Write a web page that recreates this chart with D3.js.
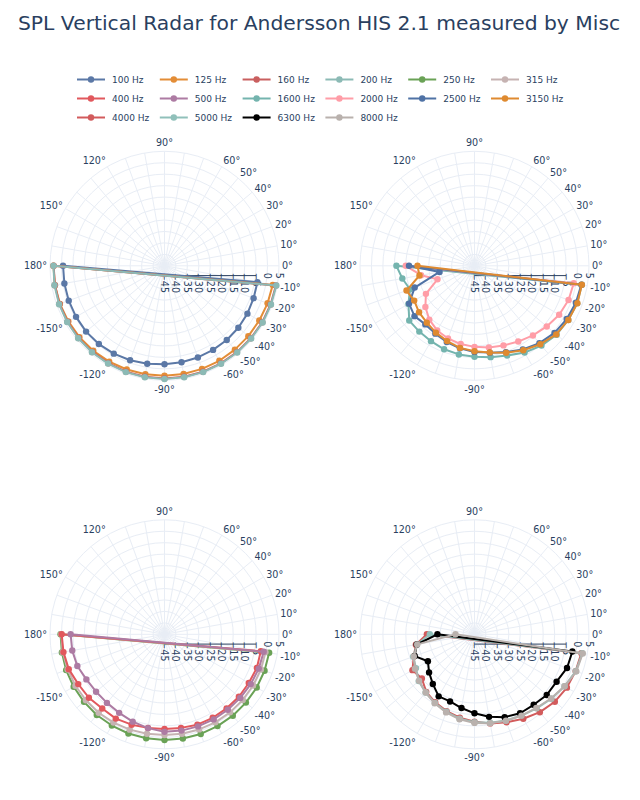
<!DOCTYPE html>
<html><head><meta charset="utf-8">
<script src="https://cdn.jsdelivr.net/npm/d3@7"></script>
<style>
body{margin:0;background:#fff}
svg{display:block}
text{font-family:"DejaVu Sans",Verdana,sans-serif;fill:#2a3f5f}
</style>
</head><body>
<svg id="chart" width="640" height="800"></svg>
<script>
// ---------- data ----------
const angles = [-10,-20,-30,-40,-50,-60,-70,-80,-90,-100,-110,-120,-130,-140,-150,-160,-170,180];
const frequencies = ["100 Hz","125 Hz","160 Hz","200 Hz","250 Hz","315 Hz","400 Hz","500 Hz",
                     "1600 Hz","2000 Hz","2500 Hz","3150 Hz","4000 Hz","5000 Hz","6300 Hz","8000 Hz"];
const hz100  = [-3.8,-3.6,-3.2,-2.9,-2.7,-2.6,-2.4,-2.2,-2.0,-1.6,-1.1,-0.7,-0.4,-0.3,-0.4,-0.5,-0.6,-0.7];
const hz125  = [3.0,2.9,2.8,2.8,2.8,2.9,2.9,3.0,3.0,3.1,3.2,3.3,3.4,3.5,3.5,3.6,3.6,3.5];
const hz160  = [4.4,4.3,4.3,4.2,4.2,4.2,4.2,4.2,4.2,4.2,4.2,4.1,4.1,4.0,3.9,3.8,3.6,3.4];
const hz200  = [4.6,4.5,4.5,4.4,4.4,4.4,4.4,4.4,4.4,4.4,4.4,4.3,4.3,4.2,4.1,4.0,3.8,3.5];
const hz250  = [1.4,1.5,1.5,1.4,1.4,1.3,1.3,1.2,1.2,1.1,1.1,1.0,1.0,0.9,0.8,0.7,0.5,0.4];
const hz315  = [-0.2,-0.2,-0.3,-0.4,-0.5,-0.6,-0.8,-0.9,-1.0,-0.9,-0.7,-0.5,-0.3,-0.2,-0.1,0.0,0.1,0.1];
const hz400  = [-2.3,-2.1,-2.5,-2.6,-2.8,-2.9,-3.0,-3.5,-3.7,-3.5,-3.0,-2.5,-2.7,-1.9,-1.5,-0.5,-0.2,-0.1];
const hz500  = [-1.0,-1.2,-1.5,-1.8,-2.0,-2.1,-2.2,-2.3,-2.4,-3.4,-4.4,-5.4,-5.9,-6.0,-5.6,-4.5,-4.1,-4.0];
const hz1600 = [2.6,2.7,2.3,1.8,0.5,-1.3,-3.3,-4.5,-5.3,-5.7,-6.2,-7.0,-7.5,-7.8,-11.7,-15.0,-13.0,-10.9];
const hz2000 = [-1.0,-1.3,-2.3,-3.8,-5.3,-6.8,-8.0,-8.8,-9.6,-10.3,-11.2,-12.4,-14.3,-17.0,-20.5,-27.8,-21.3,-15.0];
const hz2500 = [2.4,2.1,1.5,0.6,-0.9,-2.8,-4.9,-6.5,-7.4,-8.4,-9.6,-10.8,-11.6,-10.8,-12.0,-17.2,-29.5,-16.4];
const hz3150 = [2.6,2.8,2.3,1.6,-0.3,-2.4,-4.6,-6.6,-7.7,-8.6,-10.0,-11.3,-12.6,-13.4,-14.6,-13.4,-20.6,-20.1];
const hz4000 = [2.4,2.0,1.6,0.8,-0.6,-2.4,-4.1,-5.5,-6.8,-8.0,-9.3,-10.7,-12.2,-15.0,-13.7,-16.8,-19.0,-24.2];
const hz5000 = [2.8,2.1,0.4,-1.2,-2.8,-4.0,-4.9,-5.8,-6.6,-7.6,-9.0,-10.4,-11.8,-13.2,-15.5,-16.5,-19.5,-25.5];
const hz6300 = [-1.6,-2.0,-3.6,-3.8,-4.8,-5.2,-6.5,-8.4,-10.5,-12.3,-13.8,-13.7,-16.7,-19.1,-21.5,-17.2,-19.4,-28.8];
const hz8000 = [3.0,2.3,0.4,-1.4,-3.0,-4.0,-4.8,-5.6,-6.3,-7.3,-8.7,-10.2,-11.8,-13.4,-15.0,-16.8,-19.6,-36.7];
const seriesValues = [hz100,hz125,hz160,hz200,hz250,hz315,hz400,hz500,
                      hz1600,hz2000,hz2500,hz3150,hz4000,hz5000,hz6300,hz8000];
const subplotOf = [0,0,0,0,2,2,2,2,1,1,1,1,3,3,3,3];
const radialTicks = [-45,-40,-35,-30,-25,-20,-15,-10,-5,0,5];
const angularLabelValues = [90,120,150,180,-150,-120,-90,-60,-50,-40,-30,-20,-10,0,10,20,30,40,50,60];
const titleText = "SPL Vertical Radar for Andersson HIS 2.1 measured by Misc";

// ---------- styles ----------
const colors = ["#5b78a6","#e38d37","#c95f5f","#8cbab5","#6aa256","#c6b3b2","#e1585d","#ad7ba3",
                "#74b4ae","#ff9da7","#4f72a5","#df8a30","#d25b5c","#90c0ba","#000000","#b9b1ad"];
const centers = [[164.5,265.8],[474.5,265.8],[164.5,634.3],[474.5,634.3]];
const R = 114.5, gridColor = "#e8edf5", fs = 9.6, pad = 3;

const svg = d3.select("#chart");
svg.append("rect").attr("width",640).attr("height",800).attr("fill","#fff");

const r = d3.scaleLinear().domain([-45,5]).range([0,R]);
const a = d3.scaleLinear().domain([0,90]).range([Math.PI/2,0]); // d3 radial angle (clockwise from top)
const deg = d3.scaleLinear().domain([0,180]).range([0,Math.PI]);

svg.append("text").attr("x",18).attr("y",30).attr("font-size",20.3).text(titleText);

// legend
frequencies.forEach((f,i)=>{
  const col=i%6,row=Math.floor(i/6);
  const x0=77+col*82.8,y=79.5+row*19;
  const g=svg.append("g");
  g.append("line").attr("x1",x0).attr("x2",x0+28).attr("y1",y).attr("y2",y)
    .attr("stroke",colors[i]).attr("stroke-width",2);
  g.append("circle").attr("cx",x0+14).attr("cy",y).attr("r",3.2).attr("fill",colors[i]);
  g.append("text").attr("x",x0+35).attr("y",y+3.3).attr("font-size",9).text(f);
});

const spokes = d3.range(-180,180,10);
const fmt = d3.format("");

centers.forEach(([cx,cy],k)=>{
  const g = svg.append("g").attr("transform",`translate(${cx},${cy})`);
  g.selectAll("circle.grid").data(radialTicks.filter(v=>v>-45)).join("circle")
    .attr("r",d=>r(d)).attr("fill","none").attr("stroke",gridColor).attr("stroke-width",1);
  g.selectAll("line.spoke").data(spokes).join("line")
    .attr("x1",0).attr("y1",0)
    .attr("x2",d=>Math.cos(deg(d))*R).attr("y2",d=>-Math.sin(deg(d))*R)
    .attr("stroke",gridColor).attr("stroke-width",1);
  g.selectAll("text.ang").data(angularLabelValues).join("text")
    .attr("font-size",fs)
    .attr("x",d=>Math.cos(deg(d))*(R+pad))
    .attr("y",d=>{const s=Math.sin(deg(d)),c=Math.cos(deg(d));const ff=s>0?0.2:1;
       return -s*R - s*(pad+fs*ff) + Math.abs(c)*fs*0.35;})
    .attr("text-anchor",d=>{const c=Math.cos(deg(d));return Math.abs(c)<0.1?"middle":(c>0?"start":"end");})
    .text(d=>d+"°");
  g.append("line").attr("x1",r(-45)).attr("x2",r(-5)).attr("y1",9.8).attr("y2",9.8)
    .attr("stroke","#2a3f5f").attr("stroke-width",1);
  g.selectAll("text.rad").data(radialTicks).join("text")
    .attr("font-size",fs).attr("text-anchor","start").attr("dominant-baseline","central")
    .attr("transform",d=>`translate(${r(d)},7) rotate(90)`)
    .text(d=>fmt(d));
});

// traces
const lineGen = d3.lineRadial().angle(d=>a(d.t)).radius(d=>r(d.v));
seriesValues.forEach((vals,i)=>{
  const [cx,cy]=centers[subplotOf[i]];
  const pts = angles.map((t,j)=>({t,v:vals[j]}));
  const closed = pts.concat([pts[0]]);
  const g = svg.append("g").attr("transform",`translate(${cx},${cy})`);
  g.append("path").attr("d",lineGen(closed)).attr("fill","none")
    .attr("stroke",colors[i]).attr("stroke-width",2).attr("stroke-linejoin","round");
  g.selectAll("circle").data(pts).join("circle")
    .attr("cx",d=>d3.pointRadial(a(d.t),r(d.v))[0])
    .attr("cy",d=>d3.pointRadial(a(d.t),r(d.v))[1])
    .attr("r",3.2).attr("fill",colors[i]);
});
</script>
</body></html>
